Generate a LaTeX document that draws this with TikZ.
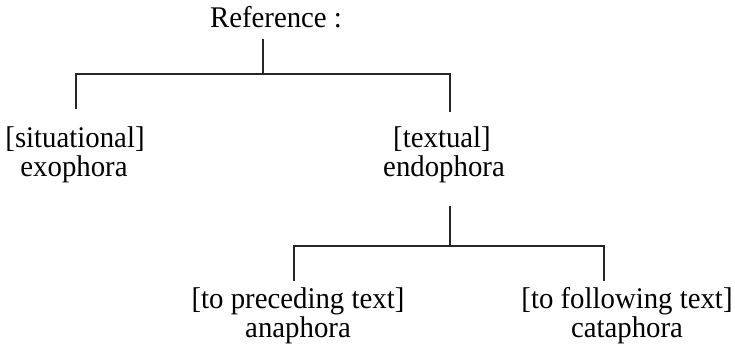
\documentclass[tikz,border=0pt]{standalone}
\usepackage{fontspec}
\setmainfont{Liberation Serif}
\newfontfamily\reffont[FakeStretch=0.96]{Liberation Serif}
\begin{document}
\begin{tikzpicture}[x=1pt,y=-1pt,
  lbl/.style={inner sep=0pt,anchor=base,font=\reffont\fontsize{30}{34}\selectfont},
  branch/.style={line width=1.7pt,line cap=rect,draw=black!85}]
\useasboundingbox[fill=white] (0,0) rectangle (735,348);
% text nodes
\node[lbl] (ref) at (276,27) {Reference :};
\node[lbl] (sit) at (75,147) {[situational]};
\node[lbl] (exo) at (74,176) {exophora};
\node[lbl] (txt) at (442,147) {[textual]};
\node[lbl] (endo) at (444,176) {endophora};
\node[lbl] (pre) at (298,308) {[to preceding text]};
\node[lbl] (ana) at (298,337) {anaphora};
\node[lbl] (fol) at (627,308) {[to following text]};
\node[lbl] (cata) at (627,337) {cataphora};
% junction coordinates
\coordinate (r0) at (263,40);
\coordinate (r1) at (263,74);
\coordinate (hl) at (76,74);
\coordinate (hr) at (450,74);
\coordinate (sl) at (76,108);
\coordinate (sr) at (450,111);
\coordinate (e0) at (450,207);
\coordinate (e1) at (450,246);
\coordinate (el) at (294,246);
\coordinate (er) at (604,246);
\coordinate (pl) at (294,280);
\coordinate (pr) at (604,280);
% connectors
\draw[branch] (r0) -- (r1);
\draw[branch] (sl) -- (hl) -- (hr) -- (sr);
\draw[branch] (e0) -- (e1);
\draw[branch] (pl) -- (el) -- (er) -- (pr);
\end{tikzpicture}
\end{document}
